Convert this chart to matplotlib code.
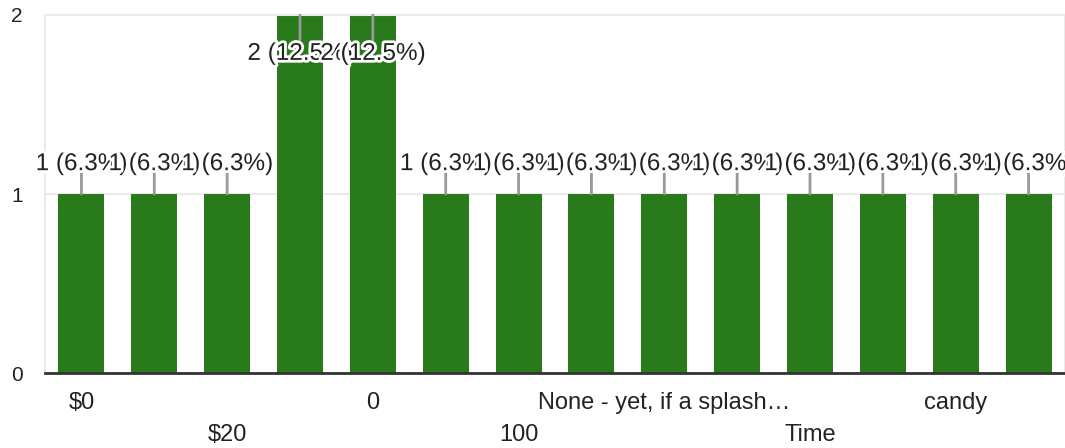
import numpy as np
import matplotlib.pyplot as plt
import matplotlib.patheffects as pe
from decimal import Decimal, ROUND_HALF_UP

plt.rcParams['font.family'] = ['Liberation Sans', 'DejaVu Sans']

# categories (only every other one is labelled in the chart)
categories = ["$0", "$10", "$20", "$5", "0", "10", "100", "50",
              "None - yet, if a splash\u2026", "Nothing", "Time", "a lot",
              "candy", "money"]
counts = [1, 1, 1, 2, 2, 1, 1, 1, 1, 1, 1, 1, 1, 1]
total = sum(counts)

bar_color = "#287a1b"
text_color = "#222222"


def pct(v):
    p = Decimal(v * 100) / Decimal(total)
    return p.quantize(Decimal("0.1"), rounding=ROUND_HALF_UP)


fig = plt.figure(figsize=(10.65, 4.48), dpi=100)
ax = fig.add_axes([45 / 1065, 1 - 373 / 448, 1 - 45 / 1065, 358 / 448])

x = np.arange(len(categories))
ax.bar(x, counts, width=0.63, color=bar_color, zorder=2)

ax.set_xlim(-0.5, len(categories) - 0.5)
ax.set_ylim(0, 2)
ax.set_yticks([0, 1, 2])
ax.grid(axis='y', color='#ebebeb', lw=1.5, zorder=0)

for s in ['left', 'top', 'right']:
    ax.spines[s].set_color('#ebebeb')
    ax.spines[s].set_linewidth(1.5)
ax.spines['bottom'].set_color('#333333')
ax.spines['bottom'].set_linewidth(2)
ax.spines['bottom'].set_zorder(3)

# value labels with leader lines
ymax = ax.get_ylim()[1]
halo = [pe.withStroke(linewidth=4, foreground='white')]
for i, v in enumerate(counts):
    label = f"{v} ({pct(v)}%)"
    if v >= ymax:
        line_off, text_off = -18, -28
    else:
        line_off, text_off = 17, 21.5
    ax.annotate('', xy=(i, v), xytext=(0, line_off), textcoords='offset points',
                arrowprops=dict(arrowstyle='-', color='#999999', lw=2,
                                shrinkA=0, shrinkB=0), zorder=4)
    ax.annotate(label, xy=(i, v), xytext=(0, text_off), textcoords='offset points',
                ha='center', va='center', fontsize=17.5, color=text_color,
                path_effects=halo, zorder=5, annotation_clip=False)

# staggered category labels
ax.set_xticks(x[::4], [categories[i] for i in x[::4]])
ax.set_xticks(x[2::4], [categories[i] for i in x[2::4]], minor=True)
ax.tick_params(axis='x', which='major', length=0, pad=13.5, labelsize=17,
               labelcolor=text_color)
ax.tick_params(axis='x', which='minor', length=0, pad=36.5, labelsize=17,
               labelcolor=text_color)
ax.tick_params(axis='y', length=0, pad=16, labelsize=15, labelcolor=text_color)

fig.savefig("out.png", dpi=100)
